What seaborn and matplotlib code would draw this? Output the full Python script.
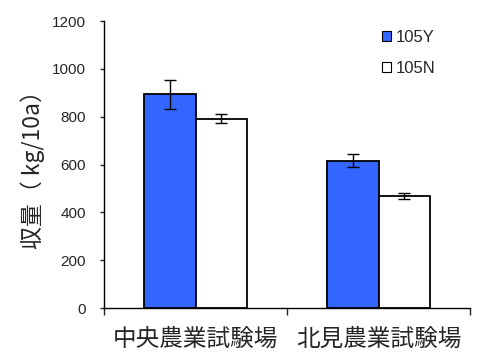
import matplotlib
matplotlib.use("Agg")
import matplotlib.pyplot as plt
import seaborn as sns
import pandas as pd
import numpy as np
from matplotlib.patches import Patch

sites = ["中央農業試験場", "北見農業試験場"]
series = ["105Y", "105N"]
yield_105Y = [893, 616]
yield_105N = [792, 467]
err_105Y = [61, 28]
err_105N = [19, 12]
colors = ["#3366FF", "#FFFFFF"]

df = pd.DataFrame({
    "site": sites * 2,
    "series": [series[0]] * 2 + [series[1]] * 2,
    "value": yield_105Y + yield_105N,
})

sns.set_style("white")
plt.rcParams["font.family"] = ["Liberation Sans", "Noto Sans CJK JP", "DejaVu Sans"]

fig = plt.figure(figsize=(4.8, 3.56), dpi=100)
ax = fig.add_axes([0.2167, 0.1348, 0.7625, 0.8062])

sns.barplot(data=df, x="site", y="value", hue="series", order=sites,
            hue_order=series, palette=colors, saturation=1, width=0.565, gap=0,
            edgecolor="black", linewidth=1.3, errorbar=None, ax=ax,
            legend=False)

bars = [p for p in ax.patches]
errs = err_105Y + err_105N
for p, e in zip(bars, errs):
    cx = p.get_x() + p.get_width() / 2
    ax.errorbar(cx, p.get_height(), yerr=e, fmt="none", ecolor="black",
                elinewidth=1, capsize=4, capthick=1, zorder=5)

ax.set_ylim(0, 1200)
ax.set_xlim(-0.5, 1.5)
ax.set_yticks(np.arange(0, 1201, 200))
ax.tick_params(axis="y", direction="out", length=3, width=1, labelsize=11,
               left=True, pad=10)
ax.set_xticks([-0.5, 0.5, 1.5])
ax.set_xticklabels([])
ax.tick_params(axis="x", which="major", direction="out", length=5, width=1,
               bottom=True)
ax.set_xticks([0, 1], minor=True)
ax.set_xticklabels(sites, minor=True, fontsize=17, family=["Noto Sans CJK JP"])
ax.tick_params(axis="x", which="minor", length=0, pad=14)
ax.set_xlabel("")
ax.set_ylabel("収量（ kg/10a）", fontsize=16.5, labelpad=5,
              family=["Noto Sans CJK JP"])

for s in ["top", "right"]:
    ax.spines[s].set_visible(False)
for s in ["left", "bottom"]:
    ax.spines[s].set_color("black")
    ax.spines[s].set_linewidth(1)

handles = [Patch(facecolor=c, edgecolor="black", linewidth=0.8) for c in colors]
ax.legend(handles, series, loc="upper left", bbox_to_anchor=(0.718, 1.02),
          frameon=False, fontsize=12, handlelength=0.55, handleheight=0.55,
          handletextpad=0.3, labelspacing=0.95)

fig.savefig("out.png", dpi=100)
